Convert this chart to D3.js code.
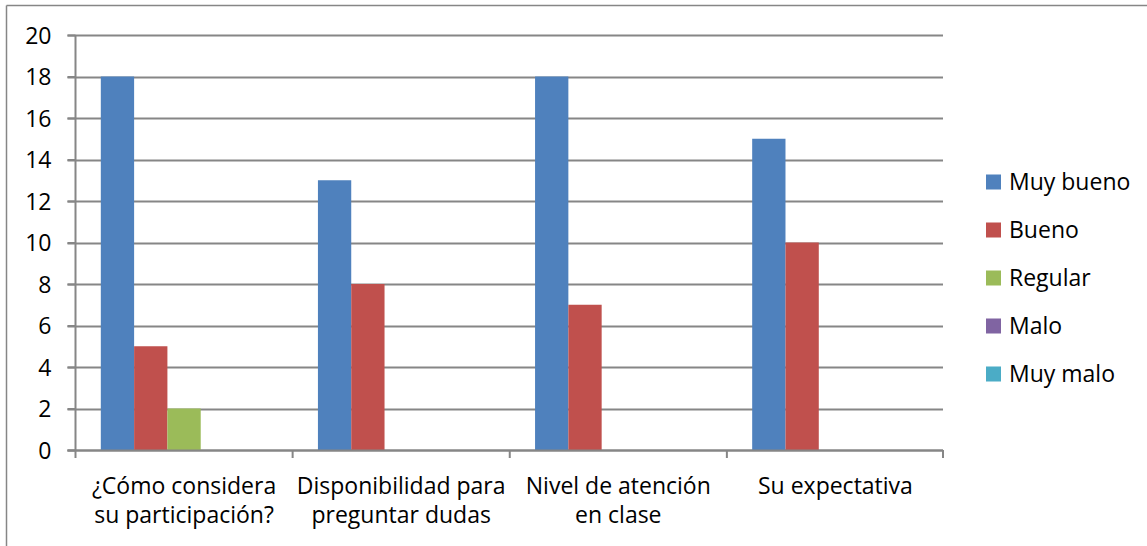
<!DOCTYPE html>
<html>
<head>
<meta charset="utf-8">
<script src="https://cdn.jsdelivr.net/npm/d3@7"></script>
<style>
  html, body { margin: 0; padding: 0; background: #fff; }
  svg text { font-family: "Open Sans", Lato, sans-serif; fill: #000; }
</style>
</head>
<body>
<svg id="chart" width="1147" height="546"></svg>
<script>
// Survey categories (two-line axis labels)
const categories = [
  ["¿Cómo considera", "su participación?"],
  ["Disponibilidad para", "preguntar dudas"],
  ["Nivel de atención", "en clase"],
  ["Su expectativa"]
];
const seriesNames = ["Muy bueno", "Bueno", "Regular", "Malo", "Muy malo"];
const seriesColors = ["#4f81bd", "#c0504d", "#9bbb59", "#8064a2", "#4bacc6"];

// Counts per category, one array per rating
const muyBueno = [18, 13, 18, 15];
const bueno    = [5, 8, 7, 10];
const regular  = [2, 0, 0, 0];
const malo     = [0, 0, 0, 0];
const muyMalo  = [0, 0, 0, 0];
const seriesValues = [muyBueno, bueno, regular, malo, muyMalo];

const yTicks = [0, 2, 4, 6, 8, 10, 12, 14, 16, 18, 20];

const FONT = 23;
const svg = d3.select("#chart");
const gridColor = "#868686";

// Outer chart frame (top and left edges visible)
svg.append("line").attr("x1", 6.5).attr("x2", 1147).attr("y1", 5.5).attr("y2", 5.5)
  .attr("stroke", gridColor).attr("stroke-width", 1.5);
svg.append("line").attr("x1", 6.5).attr("x2", 6.5).attr("y1", 5.5).attr("y2", 546)
  .attr("stroke", gridColor).attr("stroke-width", 1.5);

const plot = { left: 75.5, right: 944, top: 35, bottom: 450 };

const x0 = d3.scaleBand()
  .domain(d3.range(categories.length))
  .range([plot.left, plot.right]);

const x1 = d3.scaleBand()
  .domain(seriesNames)
  .range([0, x0.bandwidth()])
  .paddingOuter(0.76);

const y = d3.scaleLinear().domain([0, 20]).range([plot.bottom, plot.top]);

// Horizontal gridlines
svg.append("g")
  .selectAll("line")
  .data(yTicks)
  .join("line")
  .attr("x1", plot.left - 8)
  .attr("x2", plot.right - 1)
  .attr("y1", d => Math.round(y(d)) + 0.5)
  .attr("y2", d => Math.round(y(d)) + 0.5)
  .attr("stroke", gridColor)
  .attr("stroke-width", 2);

// Bars
const groups = svg.append("g")
  .selectAll("g")
  .data(categories.map((c, i) => i))
  .join("g")
  .attr("transform", i => `translate(${x0(i)},0)`);

groups.selectAll("rect")
  .data(i => seriesNames.map((s, k) => ({ s, k, v: seriesValues[k][i] })))
  .join("rect")
  .attr("x", d => x1(d.s))
  .attr("width", x1.bandwidth())
  .attr("y", d => y(d.v))
  .attr("height", d => y(0) - y(d.v))
  .attr("fill", d => seriesColors[d.k]);

// Y axis
const yAxis = svg.append("g")
  .attr("transform", `translate(${plot.left},0)`)
  .call(d3.axisLeft(y).tickValues(yTicks).tickSize(8).tickPadding(16));
yAxis.select(".domain").attr("stroke", gridColor).attr("stroke-width", 2)
  .attr("d", `M0,${plot.top}V${plot.bottom}`);
yAxis.selectAll(".tick line").attr("stroke", gridColor).attr("stroke-width", 2);
yAxis.selectAll(".tick text").attr("font-size", FONT).attr("dy", "0.36em")
  .style("font-family", "'Open Sans', sans-serif").attr("fill", "#000");

// X axis with tick marks at category boundaries
const xg = svg.append("g");
xg.append("line")
  .attr("x1", plot.left - 8).attr("x2", plot.right - 1)
  .attr("y1", plot.bottom + 0.5).attr("y2", plot.bottom + 0.5)
  .attr("stroke", gridColor).attr("stroke-width", 2);
xg.selectAll("line.tick")
  .data(d3.range(categories.length + 1))
  .join("line")
  .attr("class", "tick")
  .attr("x1", i => i < categories.length ? x0(i) : plot.right - 1)
  .attr("x2", i => i < categories.length ? x0(i) : plot.right - 1)
  .attr("y1", plot.bottom)
  .attr("y2", plot.bottom + 8)
  .attr("stroke", gridColor).attr("stroke-width", 2);

// Category labels
const labels = svg.append("g")
  .selectAll("text")
  .data(categories)
  .join("text")
  .attr("text-anchor", "middle")
  .attr("font-size", FONT)
  .attr("x", (c, i) => x0(i) + x0.bandwidth() / 2)
  .attr("y", 494);
labels.selectAll("tspan")
  .data(c => c)
  .join("tspan")
  .attr("x", function () { return d3.select(this.parentNode).attr("x"); })
  .attr("dy", (d, j) => j === 0 ? 0 : 29)
  .text(d => d);

// Legend
const legend = svg.append("g")
  .selectAll("g")
  .data(seriesNames)
  .join("g")
  .attr("transform", (d, k) => `translate(986,${182 + k * 48})`);
legend.append("rect")
  .attr("x", 0).attr("y", -7.5)
  .attr("width", 15).attr("height", 15)
  .attr("fill", (d, k) => seriesColors[k]);
legend.append("text")
  .attr("x", 23).attr("y", 0).attr("dy", "0.36em")
  .attr("font-size", FONT)
  .text(d => d);
</script>
</body>
</html>
